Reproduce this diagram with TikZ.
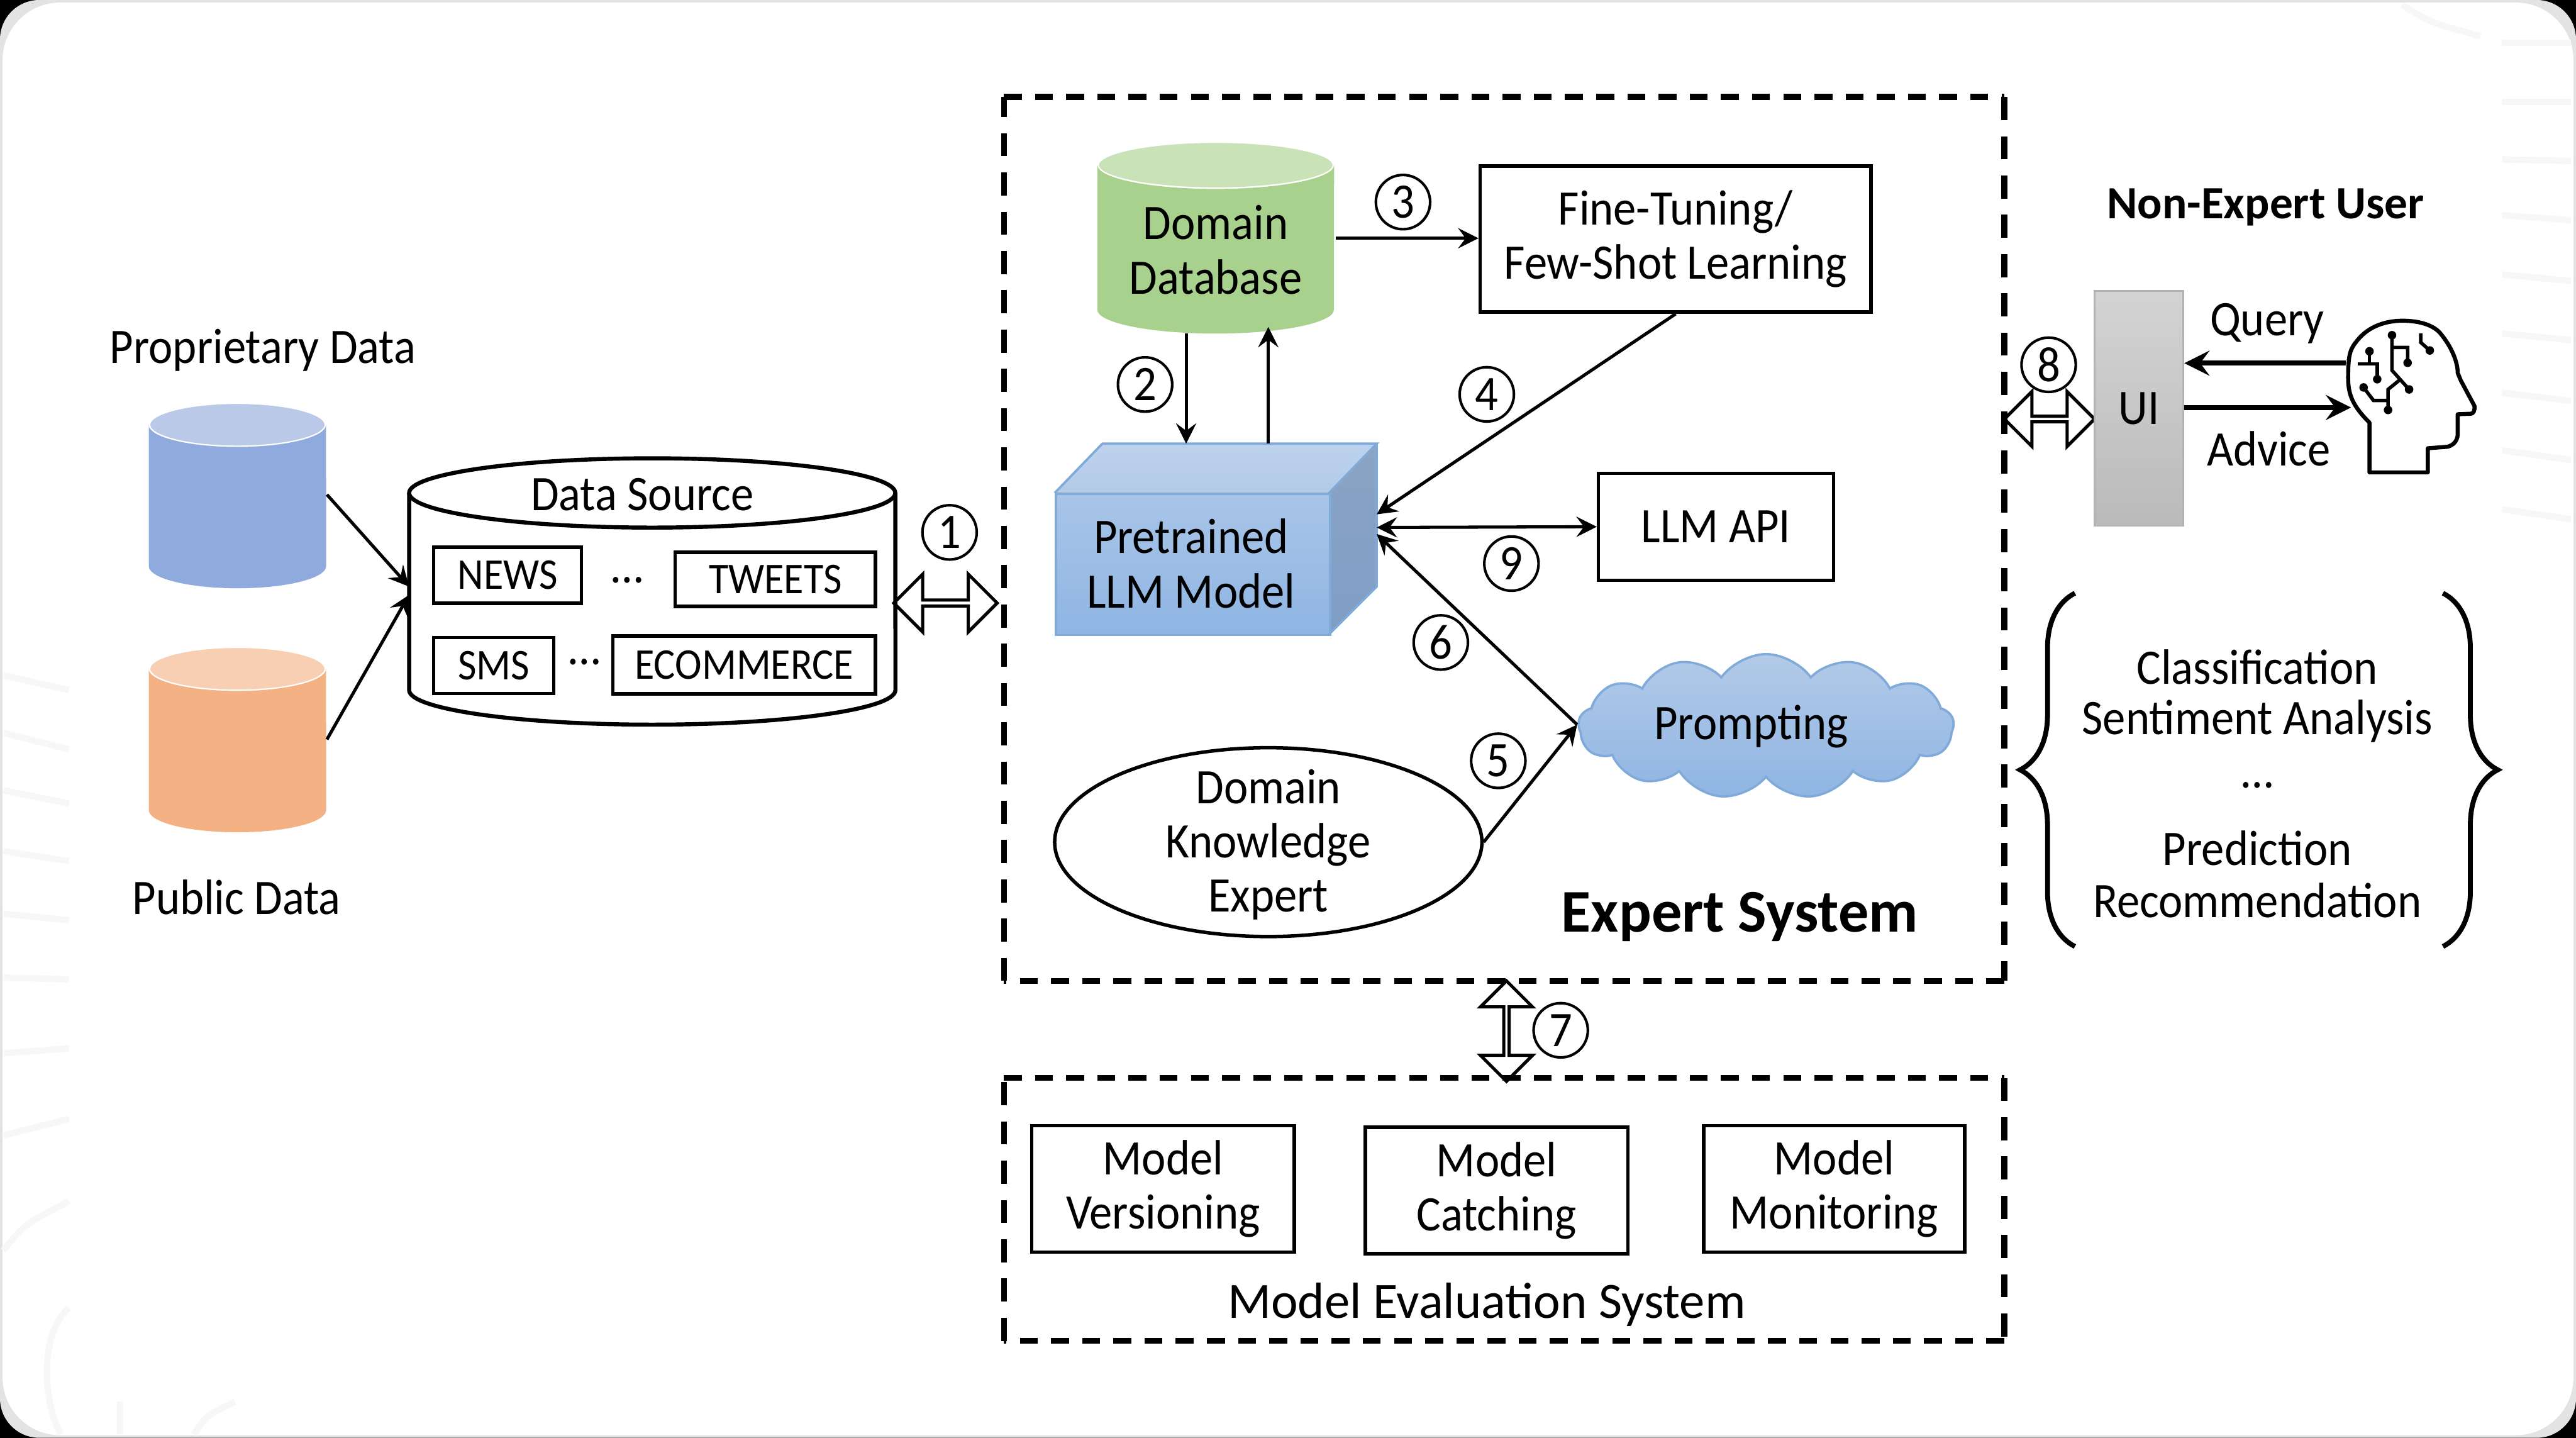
\documentclass[tikz,border=0pt]{standalone}
\usepackage{fontspec}
\setmainfont{Carlito}[FakeStretch=0.92]
\newfontfamily\headfont{Carlito}
\usetikzlibrary{shapes.geometric,shapes.symbols,shapes.arrows,decorations.pathreplacing}
\definecolor{bluedb}{HTML}{8FAADC}
\definecolor{bluedbtop}{HTML}{B9C9E7}
\definecolor{orangedb}{HTML}{F4B183}
\definecolor{orangedbtop}{HTML}{F8CFB3}
\definecolor{greendb}{HTML}{A9D18E}
\definecolor{greendbtop}{HTML}{C9E2B8}
\definecolor{cubeline}{HTML}{7FAAD9}
\definecolor{cubetopa}{HTML}{BDD2EC}
\definecolor{cubetopb}{HTML}{B3CAE8}
\definecolor{cubesidea}{HTML}{8BA4C4}
\definecolor{cubesideb}{HTML}{7F9DC6}
\definecolor{cubefronta}{HTML}{A9C5E8}
\definecolor{cubefrontb}{HTML}{8FB5E3}
\tikzset{
	txt/.style={font=\fontsize{8.6}{9.4}\selectfont,align=center,inner sep=0pt},
	box/.style={draw,line width=0.6pt,txt,anchor=north west,xshift=-0.3pt},
	tag/.style={box,font=\fontsize{7.6}{9}\selectfont},
	dbtop/.style={ellipse,draw=white,line width=0.5pt,inner sep=0pt,outer sep=0pt},
	num/.style={circle,draw,line width=0.45pt,minimum size=9.4pt,inner sep=0pt,font=\fontsize{8.6}{9.4}\selectfont},
	arw/.style={->,>=stealth,line width=0.55pt},
	bigarw/.style={->,>=stealth,line width=0.9pt},
	hollow/.style={double arrow,draw,line width=0.55pt,inner sep=0pt,double arrow head extend=2.4pt},
	dashh/.style={line width=1pt,dash pattern=on 3.1pt off 2.3pt},
	dashv/.style={line width=1pt,dash pattern=on 4pt off 2.8pt},
	wm/.style={line width=1.1pt,color=black!3},
}
\begin{document}
\begin{tikzpicture}[x=0.1mm,y=-0.1mm]
	% page
	\fill [black] (0,0) rectangle (1568,875);
	\fill [black!11,rounded corners=2.4mm] (0,0) rectangle (1568,875);
	\fill [white,rounded corners=3.5mm] (1.6,1.6) rectangle (1566.4,873.4);
	\useasboundingbox (0,0) rectangle (1568,875);

	% watermark
	\draw [wm] (1523,26) -- (1565,26);
	\draw [wm] (1523,62) -- (1565,62);
	\draw [wm] (1523,97) -- (1565,98);
	\draw [wm] (1523,131) -- (1565,134);
	\draw [wm] (1523,167) -- (1565,171);
	\draw [wm] (1523,203) -- (1565,207);
	\draw [wm] (1523,239) -- (1565,244);
	\draw [wm] (1523,274) -- (1565,280);
	\draw [wm] (1523,310) -- (1565,316);
	\draw [wm] (1462,3) .. controls (1480,14) .. (1510,22);
	\draw [wm] (2,411) -- (42,420);
	\draw [wm] (2,446) -- (42,456);
	\draw [wm] (2,481) -- (42,489);
	\draw [wm] (2,518) -- (42,524);
	\draw [wm] (2,556) -- (42,560);
	\draw [wm] (2,595) -- (42,596);
	\draw [wm] (2,641) -- (42,638);
	\draw [wm] (2,691) -- (42,681);
	\draw [wm] (2,761) .. controls (15,745) .. (42,731);
	\draw [wm] (42,796) .. controls (25,810) and (25,850) .. (37,873);
	\draw [wm] (73,853) -- (73,873);
	\draw [wm] (118,873) .. controls (125,862) .. (143,853);

	% sources
	\node [dbtop,fill=bluedbtop,minimum width=30.7pt,minimum height=7.7pt] (PD) at (144.5,258.5) {};
	\fill [bluedb] (PD.west) -- ++(0,86) arc [start angle=180,end angle=360,x radius=5.4mm,y radius=1.35mm] -- (PD.east) arc [start angle=0,end angle=-180,x radius=5.4mm,y radius=1.35mm] -- cycle;
	\node [dbtop,fill=orangedbtop,minimum width=30.7pt,minimum height=7.7pt] (OD) at (144.5,407) {};
	\fill [orangedb] (OD.west) -- ++(0,86) arc [start angle=180,end angle=360,x radius=5.4mm,y radius=1.35mm] -- (OD.east) arc [start angle=0,end angle=-180,x radius=5.4mm,y radius=1.35mm] -- cycle;
	\node [txt] (PDL) at (160,213) {Proprietary Data};
	\node [txt] (ODL) at (144,546) {Public Data};

	\node [ellipse,draw,line width=0.7pt,inner sep=0pt,outer sep=0pt,minimum width=84.2pt,minimum height=12pt] (DS) at (397,300) {};
	\draw [line width=0.7pt] (DS.west) -- ++(0,120) arc [start angle=180,end angle=360,x radius=14.8mm,y radius=2.1mm] -- (DS.east);
	\node [txt] (DSL) at (391,301) {Data Source};
	\node [tag,minimum width=25.6pt,minimum height=9.7pt] (NEWS) at (264,332) {NEWS};
	\node [tag,minimum width=34.7pt,minimum height=9.4pt] (TWEETS) at (411,335) {TWEETS};
	\node [tag,minimum width=20.8pt,minimum height=9.7pt] (SMS) at (264,387) {SMS};
	\node [tag,minimum width=45.5pt,minimum height=10pt] (ECOM) at (373,386) {ECOMMERCE};
	\node [txt] (DOTA) at (382,353) {\dots};
	\node [txt] (DOTB) at (356,403) {\dots};

	\coordinate (PA) at (199,301);
	\coordinate (OA) at (199,450);
	\coordinate (DSA) at (249,357);
	\coordinate (DSB) at (249,362);
	\draw [arw] (PA) -- (DSA);
	\draw [arw] (OA) -- (DSB);

	% expert system
	\coordinate (E1) at (611,59);
	\coordinate (E2) at (1220,59);
	\coordinate (E3) at (1220,597);
	\coordinate (E4) at (611,597);
	\draw [dashh] (E1) -- (E2);
	\draw [dashv] (E2) -- (E3);
	\draw [dashh] (E3) -- (E4);
	\draw [dashv] (E4) -- (E1);
	\node [font=\fontsize{10.5}{11}\headfont\bfseries,inner sep=0pt] (ES) at (1059,558) {Expert System};

	\node [dbtop,fill=greendbtop,minimum width=41pt,minimum height=8.2pt] (DB) at (740,100.5) {};
	\fill [greendb] (DB.west) -- ++(0,88) arc [start angle=180,end angle=360,x radius=7.2mm,y radius=1.45mm] -- (DB.east) arc [start angle=0,end angle=-180,x radius=7.2mm,y radius=1.45mm] -- cycle;
	\node [txt] (DBL) at (740,152) {Domain\\Database};
	\node [box,minimum width=67.7pt,minimum height=25.3pt] (FT) at (901,100) {Fine-Tuning/\\Few-Shot Learning};
	\node [box,minimum width=40.7pt,minimum height=18.5pt] (API) at (973,287) {LLM API};

	\fill [top color=cubetopa,bottom color=cubetopb] (642,300) -- (671,270) -- (838,270) -- (809,300) -- cycle;
	\fill [top color=cubesidea,bottom color=cubesideb] (809,300) -- (838,270) -- (838,357) -- (809,386) -- cycle;
	\node [txt,draw=cubeline,line width=0.4pt,top color=cubefronta,bottom color=cubefrontb,minimum width=47.5pt,minimum height=24.4pt,anchor=north west] (LLM) at (642,300) {};
	\draw [cubeline,line width=0.4pt] (642,300) -- (671,270) -- (838,270) -- (809,300) (838,270) -- (838,357) -- (809,386);
	\node [txt] (LLML) at (725,343) {Pretrained\\LLM Model};
	\coordinate (LA) at (838,313);
	\coordinate (LB) at (838,321);
	\coordinate (LC) at (838,325);
	\coordinate (LD) at (722,270);
	\coordinate (LE) at (772,270);
	\coordinate (DBA) at (722,203);
	\coordinate (DBB) at (772,199);
	\coordinate (DBC) at (813,145);

	\node [cloud,cloud puffs=13,cloud puff arc=110,aspect=2.6,draw=cubeline,line width=0.4pt,top color=cubetopb,bottom color=cubefrontb,minimum width=65pt,minimum height=25pt,inner sep=0pt] (CL) at (1075,442) {};
	\node [txt] (CLL) at (1066,442) {Prompting};
	\coordinate (CA) at (960,441);

	\node [ellipse,draw,line width=0.6pt,inner sep=0pt,minimum width=74pt,minimum height=32.7pt] (DK) at (772,512.5) {};
	\node [txt] (DKL) at (772,514) {Domain\\Knowledge\\Expert};

	\draw [arw] (DBA) -- (LD);
	\draw [arw] (LE) -- (DBB);
	\draw [arw] (DBC) -- (DBC -| FT.west);
	\draw [arw] (FT.south) -- (LA);
	\draw [arw,<->] (LB) -- (API.west);
	\draw [arw] (CA) -- (LC);
	\draw [arw] (DK.east) -- (CA);

	% hollow arrows
	\node [hollow,minimum height=17.9pt,minimum width=10pt] (H1) at (575.5,367) {};
	\node [hollow,minimum height=15.6pt,minimum width=9.5pt] (H8) at (1247.5,255) {};
	\node [hollow,shape border rotate=90,minimum height=17.4pt,minimum width=9pt] (H7) at (917,627.5) {};

	% number circles
	\begin{scope}[every node/.style={num}]
	\node (N1) at (578,324) {1};
	\node (N2) at (697,234) {2};
	\node (N3) at (854,123) {3};
	\node (N4) at (905,240) {4};
	\node (N5) at (912,463) {5};
	\node (N6) at (877,391) {6};
	\node (N7) at (950,627) {7};
	\node (N8) at (1247,222) {8};
	\node (N9) at (920,343) {9};
	\end{scope}

	% evaluation
	\coordinate (M1) at (611,656);
	\coordinate (M2) at (1220,656);
	\coordinate (M3) at (1220,816);
	\coordinate (M4) at (611,816);
	\draw [dashh] (M1) -- (M2);
	\draw [dashv] (M2) -- (M3);
	\draw [dashh] (M3) -- (M4);
	\draw [dashv] (M4) -- (M1);
	\node [box,minimum width=45.5pt,minimum height=21.9pt] (MV) at (628,684) {Model\\Versioning};
	\node [box,minimum width=45.5pt,minimum height=21.9pt] (MC) at (831,685) {Model\\Catching};
	\node [box,minimum width=45.2pt,minimum height=21.9pt] (MM) at (1037,684) {Model\\Monitoring};
	\node [font=\fontsize{8.8}{9.4}\headfont,inner sep=0pt] (ME) at (905,794) {Model Evaluation System};

	% user
	\node [font=\fontsize{8}{9}\headfont\bfseries,inner sep=0pt] (NE) at (1379,126) {Non-Expert User};
	\node [txt,draw=black!30,line width=0.3pt,top color=black!17,bottom color=black!27,minimum width=15.4pt,minimum height=40.7pt] (UI) at (1302,248.5) {UI};
	\node [txt] (QL) at (1380,197) {Query};
	\node [txt] (AL) at (1381,273) {Advice};
	\coordinate (HQ) at (1428,221);
	\coordinate (HA) at (1431,248);
	\draw [bigarw] (HQ) -- (UI.east |- HQ);
	\draw [bigarw] (UI.east |- HA) -- (HA);
	\draw [line width=0.7pt,line join=round] (1442.3,287.5) -- (1442.3,257.2) .. controls (1432,247) and (1429.3,240) .. (1429.3,230.1) .. controls (1429.3,218) and (1430,213) .. (1434,208.3) .. controls (1440,200) and (1450,195.2) .. (1462.4,195.2) .. controls (1473,195.2) and (1482,198) .. (1486.1,203.7) .. controls (1492,211) and (1496,220) .. (1496,227) -- (1497.9,231.6) -- (1506.2,247.1) .. controls (1506.5,250) and (1505.5,251.8) .. (1503.9,251.8) -- (1496,252.1) -- (1496,264.2) .. controls (1496,269) and (1492,272) .. (1488.5,272) -- (1477.8,272.8) -- (1477.8,287.5) -- cycle;
	\draw [line width=0.6pt] (1456,204) -- (1456,225.4) -- (1466.4,237) (1456,211.5) -- (1465.5,211.5) -- (1465.5,220.8);
	\draw [line width=0.6pt] (1442.3,213.8) -- (1442.3,221.5) (1435.2,221.5) -- (1447,221.5) -- (1447,230.8);
	\draw [line width=0.6pt] (1438.7,235.8) -- (1444.7,243.7) -- (1453.4,243.7);
	\draw [line width=0.6pt] (1453.6,249.5) -- (1453.6,237) -- (1461.2,230.8);
	\draw [line width=0.6pt] (1473.5,202.9) -- (1473.5,208.4) -- (1479,213.3);
	\fill (1456,204) circle (2.6) (1466.4,237) circle (2.6) (1465.5,220.8) circle (2.6) (1442.3,213.8) circle (2.6) (1447,230.8) circle (2.6) (1438.7,235.8) circle (2.6) (1453.6,249.5) circle (2.6) (1479,213.3) circle (2.6);

	% tasks
	\node [txt] (T1) at (1374,406) {Classification};
	\node [txt] (T2) at (1374,439) {Sentiment Analysis};
	\node [txt] (T3) at (1374,478) {\dots};
	\node [txt] (T4) at (1374,516) {Prediction};
	\node [txt] (T5) at (1374,548) {Recommendation};
	\coordinate (BA) at (1263,361);
	\coordinate (BB) at (1263,576);
	\coordinate (BC) at (1487,361);
	\coordinate (BD) at (1487,576);
	\draw [line width=0.85pt,decorate,decoration={brace,amplitude=9.5pt}] (BB) -- (BA);
	\draw [line width=0.85pt,decorate,decoration={brace,amplitude=9.5pt}] (BC) -- (BD);
\end{tikzpicture}
\end{document}
